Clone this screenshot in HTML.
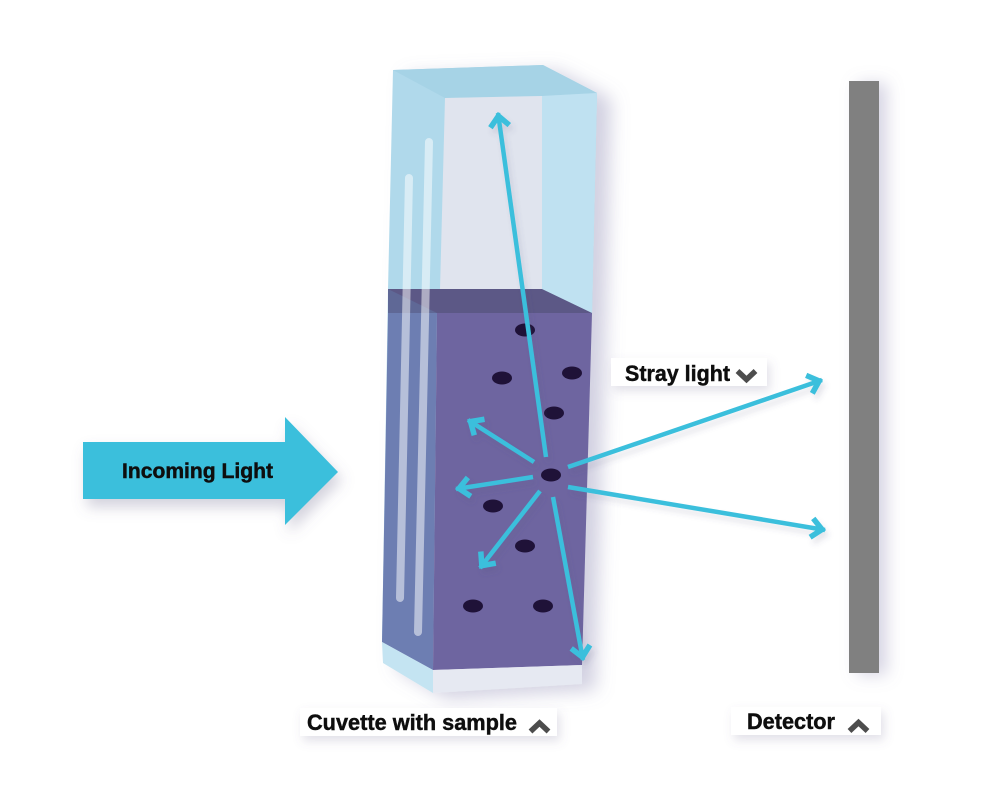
<!DOCTYPE html>
<html>
<head>
<meta charset="utf-8">
<style>
  html,body{margin:0;padding:0;background:#ffffff;}
  svg{display:block;}
  text{font-family:"Liberation Sans",Arial,sans-serif;font-weight:bold;fill:#0e0e0e;stroke:#0e0e0e;stroke-width:0.45;}
</style>
</head>
<body>
<svg width="1000" height="787" viewBox="0 0 1000 787" xmlns="http://www.w3.org/2000/svg">
  <defs>
    <filter id="cuvSh" x="-30%" y="-10%" width="170%" height="130%">
      <feDropShadow dx="14" dy="6" stdDeviation="9" flood-color="#7d78a8" flood-opacity="0.35"/>
    </filter>
    <filter id="arrSh" x="-20%" y="-30%" width="140%" height="180%">
      <feDropShadow dx="4" dy="8" stdDeviation="7" flood-color="#6d6a90" flood-opacity="0.3"/>
    </filter>
    <filter id="detSh" x="-100%" y="-5%" width="300%" height="110%">
      <feDropShadow dx="8" dy="2" stdDeviation="8" flood-color="#8a86b0" flood-opacity="0.35"/>
    </filter>
    <filter id="lineSh" x="-20%" y="-20%" width="140%" height="140%">
      <feDropShadow dx="3" dy="5" stdDeviation="3" flood-color="#555577" flood-opacity="0.15"/>
    </filter>
    <filter id="labSh" x="-20%" y="-50%" width="140%" height="220%">
      <feDropShadow dx="3" dy="5" stdDeviation="5" flood-color="#6d6a90" flood-opacity="0.2"/>
    </filter>
    <marker id="ah" markerUnits="userSpaceOnUse" markerWidth="30" markerHeight="30" viewBox="0 0 30 30" refX="20" refY="15" orient="auto">
      <polyline points="6.5,5.5 17,15 6.5,24.5" fill="none" stroke="#3bbfdc" stroke-width="5.5" stroke-linejoin="miter"/>
    </marker>
  </defs>

  <!-- Incoming light arrow -->
  <g filter="url(#arrSh)">
    <polygon points="83,442 285,442 285,417 338,472 285,525 285,499 83,499" fill="#3bbfdc"/>
  </g>
  <text x="122" y="478" font-size="21" textLength="151" lengthAdjust="spacingAndGlyphs">Incoming Light</text>

  <!-- Detector -->
  <rect x="849" y="81" width="30" height="592" fill="#808080" filter="url(#detSh)"/>

  <!-- Cuvette -->
  <g filter="url(#cuvSh)">
    <polygon points="393,70 543,65 597,93 592,313 437,313 382,642 388,290" fill="#b0d9eb"/>
    <polygon points="393,70 543,65 597,93 542,96 445,98" fill="#a6d3e6"/>
    <polygon points="445,98 542,96 542,290 440,290" fill="#e0e4ee"/>
    <polygon points="542,96 597,93 592,313 542,290" fill="#bfe1f1"/>
    <polygon points="388,289 542,289 592,313 388,313" fill="#5c5886"/>
    <polygon points="388,289 437,313 388,313" fill="#5e6896"/>
    <polygon points="388,313 437,313 433,670 382,642" fill="#6d7eb2"/>
    <polygon points="437,313 592,313 582,665 433,670" fill="#6e65a0"/>
    <polygon points="382,642 433,670 433,693 383,663" fill="#c4e4f2"/>
    <polygon points="433,670 582,665 582,684 433,693" fill="#e6e9f2"/>
  </g>
  <line x1="409" y1="178" x2="400" y2="598" stroke="#ffffff" stroke-opacity="0.5" stroke-width="8" stroke-linecap="round"/>
  <line x1="429" y1="142" x2="418" y2="632" stroke="#ffffff" stroke-opacity="0.5" stroke-width="8" stroke-linecap="round"/>

  <!-- particles -->
  <g fill="#1f1238">
    <ellipse cx="525" cy="330" rx="10" ry="6.5"/>
    <ellipse cx="502" cy="378" rx="10" ry="6.5"/>
    <ellipse cx="572" cy="373" rx="10" ry="6.5"/>
    <ellipse cx="554" cy="413" rx="10" ry="6.5"/>
    <ellipse cx="493" cy="506" rx="10" ry="6.5"/>
    <ellipse cx="525" cy="546" rx="10" ry="6.5"/>
    <ellipse cx="473" cy="606" rx="10" ry="6.5"/>
    <ellipse cx="543" cy="606" rx="10" ry="6.5"/>
  </g>

  <!-- scatter arrows -->
  <g stroke="#3bbfdc" stroke-width="4.5" fill="none" marker-end="url(#ah)" filter="url(#lineSh)">
    <line x1="546" y1="457" x2="498" y2="113"/>
    <line x1="534" y1="462" x2="468" y2="420"/>
    <line x1="533" y1="477" x2="456" y2="489"/>
    <line x1="540" y1="491" x2="480" y2="568"/>
    <line x1="553" y1="497" x2="583" y2="660"/>
    <line x1="568" y1="467" x2="822" y2="380"/>
    <line x1="568" y1="487" x2="825" y2="530"/>
  </g>
  <ellipse cx="551" cy="475" rx="10" ry="6.5" fill="#1f1238"/>

  <!-- Stray light label -->
  <rect x="611" y="358" width="156" height="28" fill="#ffffff" filter="url(#labSh)"/>
  <text x="625" y="381" font-size="22" textLength="105" lengthAdjust="spacingAndGlyphs">Stray light</text>
  <polyline points="737.5,371 746.5,379.5 755.5,371" fill="none" stroke="#4d4d4d" stroke-width="5.5"/>

  <!-- Cuvette label -->
  <rect x="300" y="708" width="257" height="28" fill="#ffffff" filter="url(#labSh)"/>
  <text x="307" y="730" font-size="22" textLength="210" lengthAdjust="spacingAndGlyphs">Cuvette with sample</text>
  <polyline points="530.5,731.5 539.5,723 548.5,731.5" fill="none" stroke="#4d4d4d" stroke-width="5.5"/>

  <!-- Detector label -->
  <rect x="731" y="707" width="150" height="28" fill="#ffffff" filter="url(#labSh)"/>
  <text x="747" y="729" font-size="22" textLength="88" lengthAdjust="spacingAndGlyphs">Detector</text>
  <polyline points="849.5,731 858.5,722.5 867.5,731" fill="none" stroke="#4d4d4d" stroke-width="5.5"/>
</svg>
</body>
</html>
